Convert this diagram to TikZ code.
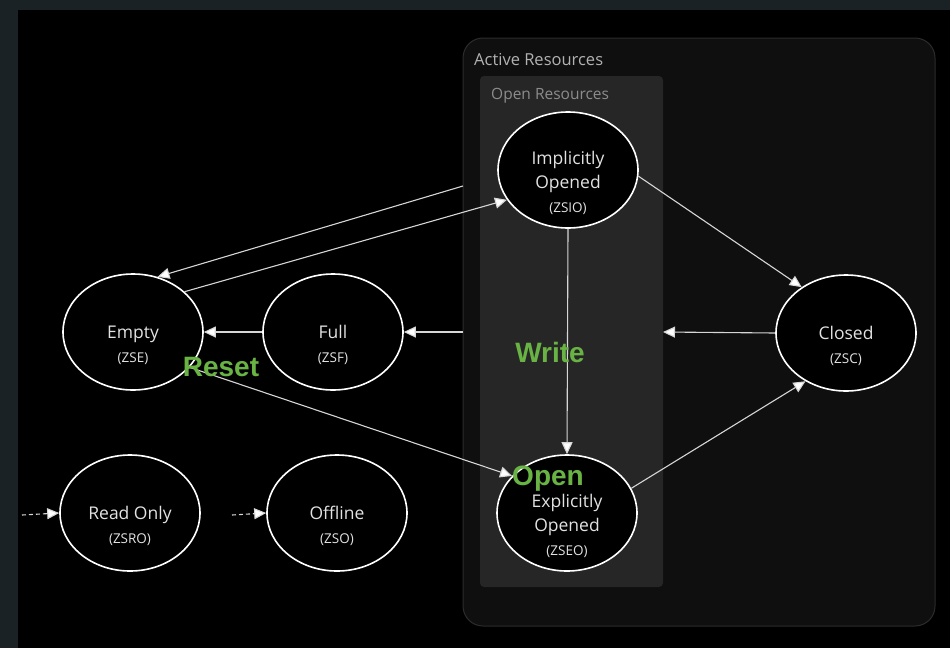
\documentclass[tikz,border=0pt]{standalone}
\usepackage{fontspec}
\setmainfont{Open Sans}
\newfontfamily\labelfont{Liberation Sans}
\usetikzlibrary{shapes.geometric,arrows.meta}
\definecolor{framecol}{HTML}{1B2226}
\definecolor{activefill}{HTML}{0F0F0F}
\definecolor{activeline}{HTML}{2C2C2C}
\definecolor{openfill}{HTML}{262626}
\definecolor{textgray}{HTML}{E2E2E2}
\definecolor{linegray}{HTML}{D6D6D6}
\definecolor{opgreen}{HTML}{69B345}
\begin{document}
\begin{tikzpicture}[x=1pt,y=-1pt,
  state/.style={ellipse, draw=white, line width=1.6pt, fill=black,
    minimum width=140pt, minimum height=116pt, inner sep=0pt},
  statetext/.style={align=center, text=textgray, inner sep=0pt,
    font=\fontsize{17.5}{24}\selectfont, yshift=-13pt},
  conn/.style={draw=linegray, line width=1.1pt,
    -{Triangle[length=12pt,width=11pt,fill=white]}},
  dconn/.style={conn, dash pattern=on 4pt off 3pt},
  oplabel/.style={text=opgreen, font=\labelfont\bfseries\fontsize{28}{30}\selectfont, inner sep=0pt},
  grouplabel/.style={anchor=west, inner sep=0pt}]
\newcommand{\subtxt}[1]{{\fontsize{13.5}{16}\selectfont #1}}

% backdrop
\fill[framecol] (0,0) rectangle (950,648);
\fill[black] (18,10) rectangle (950,648);
\useasboundingbox (0,0) rectangle (950,648);

% resource groups
\draw[fill=activefill, draw=activeline, line width=1pt, rounded corners=20pt]
  (463,38) rectangle (935,626);
\node[grouplabel, text=white!70!black, font=\fontsize{16.5}{18}\selectfont] (actlabel) at (474,60) {Active Resources};
\fill[openfill, rounded corners=4pt] (480,76) rectangle (663,587);
\node[grouplabel, text=white!55!black, font=\fontsize{15.5}{17}\selectfont] (openlabel) at (491,96) {Open Resources};

% states
\node[state] (zsio) at (568,170) {};
\node[state] (zseo) at (567,513) {};
\node[state] (zse)  at (133,332) {};
\node[state] (zsf)  at (333,332) {};
\node[state] (zsc)  at (846,333) {};
\node[state] (zsro) at (130,513) {};
\node[state] (zso)  at (337,513) {};

% state captions, set a little below each centre
\node[statetext] (zsio-t) at (zsio.center) {Implicitly\\Opened\\\subtxt{(ZSIO)}};
\node[statetext] (zseo-t) at (zseo.center) {Explicitly\\Opened\\\subtxt{(ZSEO)}};
\node[statetext] (zse-t)  at (zse.center)  {Empty\\\subtxt{(ZSE)}};
\node[statetext] (zsf-t)  at (zsf.center)  {Full\\\subtxt{(ZSF)}};
\node[statetext] (zsc-t)  at (zsc.center)  {Closed\\\subtxt{(ZSC)}};
\node[statetext] (zsro-t) at (zsro.center) {Read Only\\\subtxt{(ZSRO)}};
\node[statetext] (zso-t)  at (zso.center)  {Offline\\\subtxt{(ZSO)}};

% loose ends on the group borders
\coordinate (actA) at (463,186);
\coordinate (actB) at (463,332);
\coordinate (openR) at (663,332);
\coordinate (roIn) at (22,515);
\coordinate (offIn) at (232,515);

% transitions
\draw[conn] (actA) -- (zse.66);
\draw[conn] (zse.38) -- (zsio.206);
\draw[conn] (zsf.west) -- (zse.east);
\draw[conn] (actB) -- (zsf.east);
\draw[conn] (zsc.west) -- (openR);
\draw[conn] (zsio.-5) -- (zsc.134);
\draw[conn] (zseo.21) -- (zsc.230);
\draw[conn] (zsio.south) -- (zseo.north);
\draw[conn] (zse.-32) -- (zseo.146);
\draw[dconn] (roIn) -- (zsro.west);
\draw[dconn] (offIn) -- (zso.west);

% operation labels
\node[oplabel] (reset) at (221,367) {Reset};
\node[oplabel] (write) at (550,352) {Write};
\node[oplabel] (open)  at (548,479) {Open};
\end{tikzpicture}
\end{document}
